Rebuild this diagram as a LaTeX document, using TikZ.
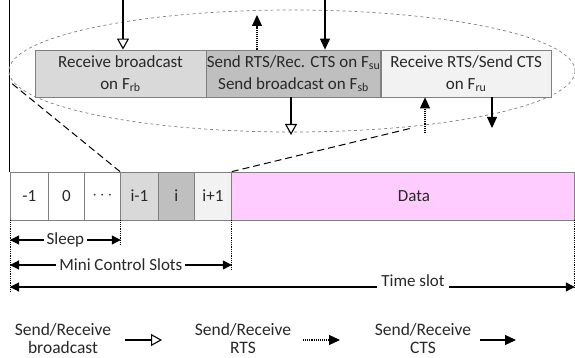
\documentclass[tikz,border=0pt]{standalone}
\usepackage{fontspec}
\setmainfont{Carlito}
\usepackage{xcolor}
\usepackage{tikz}
\usetikzlibrary{arrows.meta, positioning, calc}
\definecolor{slotlight}{RGB}{217, 217, 217}
\definecolor{slotdark}{RGB}{191, 191, 191}
\definecolor{slotpale}{RGB}{242, 242, 242}
\definecolor{datapink}{RGB}{255, 204, 255}
\definecolor{edgegray}{RGB}{128, 128, 128}
\definecolor{inkgray}{RGB}{40, 40, 40}
\tikzset{
    phasebox/.style={draw=edgegray, line width=0.8pt, minimum height=47pt, inner sep=0pt, align=center},
    slotbox/.style={draw=edgegray, line width=0.8pt, minimum height=48pt, inner sep=0pt, anchor=west},
    bcastarrow/.style={line width=1.1pt, -{Triangle[open, length=11pt, width=12pt]}},
    rtsarrow/.style={line width=1.1pt, densely dotted, -{Triangle[length=11pt, width=10pt]}},
    ctsarrow/.style={line width=1.1pt, -{Triangle[length=11pt, width=10pt]}},
    spanarrow/.style={line width=1.1pt, {Triangle[length=9pt, width=9pt]}-{Triangle[length=9pt, width=9pt]}},
    guide/.style={densely dotted, line width=0.8pt},
    zoomline/.style={dashed, dash pattern=on 7pt off 4pt, line width=1pt},
    legendtext/.style={align=center, font=\fontsize{17.5}{18}\selectfont}
}
\begin{document}
\begin{tikzpicture}[x=1pt, y=-1pt, font=\fontsize{17}{22}\selectfont, text=inkgray]
    \useasboundingbox (0,0) rectangle (575,358);

    % Frame edge
    \draw[line width=1pt] (9,0) -- (9,172);

    % Zoomed-in control slot
    \draw[dashed, edgegray, line width=0.7pt] (292,71) ellipse [x radius=283, y radius=61];
    \node[phasebox, fill=slotlight, minimum width=171pt] (rb) at (120.5,73.5) {Receive broadcast\\on F\textsubscript{rb}};
    \node[phasebox, fill=slotdark, minimum width=171pt, right=0pt of rb] (su) {Send RTS/Rec. CTS on F\textsubscript{su}\\Send broadcast on F\textsubscript{sb}};
    \node[phasebox, fill=slotpale, minimum width=170pt, right=0pt of su] (ru) {Receive RTS/Send CTS\\on F\textsubscript{ru}};

    % Messages
    \coordinate (rbin) at (123,0);
    \coordinate (suin) at (325,0);
    \coordinate (suout) at (257,15);
    \coordinate (sudown) at (291,135);
    \coordinate (ruin) at (425,133);
    \coordinate (ruout) at (492,128);
    \draw[bcastarrow] (rbin) -- (rb.north -| rbin);
    \draw[ctsarrow] (suin) -- (su.north -| suin);
    \draw[rtsarrow] (su.north -| suout) -- (suout);
    \draw[bcastarrow] (su.south -| sudown) -- (sudown);
    \draw[rtsarrow] (ruin) -- (ru.south -| ruin);
    \draw[ctsarrow] (ru.south -| ruout) -- (ruout);

    % Slots
    \foreach \x/\w/\name/\lbl/\col in {10/38/s1/-1/white, 48/36/s2/0/white, 84/36/s3/$\cdots$/white,
        120/38/s4/i-1/slotlight, 158/36/s5/i/slotdark, 194/37/s6/i+1/slotpale} {
        \node[slotbox, fill=\col, minimum width=\w pt] (\name) at (\x,196) {\lbl};
    }
    \node[slotbox, fill=datapink, minimum width=343pt] (data) at (231,196) {};
    \node (datalbl) at ([xshift=11pt]data.center) {Data};

    % Zoom lines
    \coordinate (zl) at (10,82);
    \coordinate (zr) at (412,128);
    \draw[zoomline] (s4.north west) -- (zl);
    \draw[zoomline] (s6.north east) -- (zr);

    % Durations
    \draw[guide] (s1.south west) -- ++(0,71);
    \draw[guide] (s3.south east) -- ++(0,25);
    \draw[guide] (s6.south east) -- ++(0,50);
    \draw[guide] (data.south east) -- ++(0,67);
    \draw[spanarrow] (s1.south west |- 0,240) -- (s3.south east |- 0,240)
        node[midway, fill=white, inner sep=3pt] (sleep) {Sleep};
    \draw[spanarrow] (s1.south west |- 0,265) -- (s6.south east |- 0,265)
        node[midway, fill=white, inner sep=3pt] (mini) {Mini Control Slots};
    \draw[spanarrow] (s1.south west |- 0,287) -- (data.south east |- 0,287);
    \node[fill=white, inner sep=4pt] (tslot) at (413,281) {Time slot};

    % Legend
    \node[legendtext] (lbcast) at (63,338) {Send/Receive\\broadcast};
    \node[legendtext] (lrts) at (243,338) {Send/Receive\\RTS};
    \node[legendtext] (lcts) at (423,338) {Send/Receive\\CTS};
    \coordinate (kb1) at (125,340); \coordinate (kb2) at (162,340);
    \coordinate (kr1) at (303,340); \coordinate (kr2) at (340,340);
    \coordinate (kc1) at (480,340); \coordinate (kc2) at (516,340);
    \draw[bcastarrow] (kb1) -- (kb2);
    \draw[rtsarrow] (kr1) -- (kr2);
    \draw[ctsarrow] (kc1) -- (kc2);
\end{tikzpicture}
\end{document}
